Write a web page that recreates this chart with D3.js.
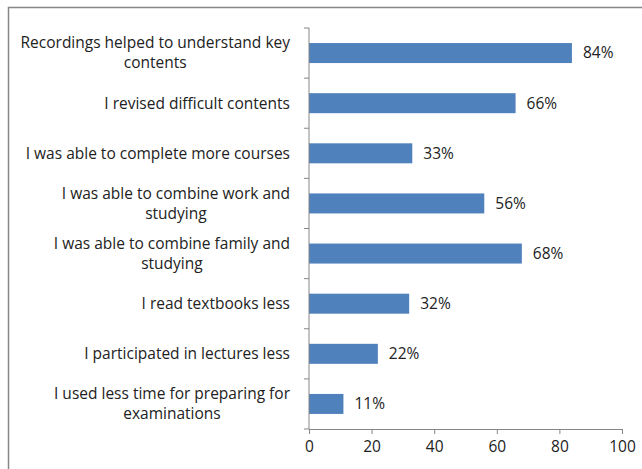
<!DOCTYPE html>
<html>
<head>
<meta charset="utf-8">
<script src="https://cdn.jsdelivr.net/npm/d3@7"></script>
<style>
body { margin: 0; background: #fff; }
svg { display: block; }
text { font-family: "Open Sans", sans-serif; fill: #222; }
</style>
</head>
<body>
<div class="wrapper"><svg width="642" height="469"></svg></div>
<script>
// categories top to bottom, each line of the label is one entry
var categories = [
    ["Recordings helped to understand key", "contents"],
    ["I revised difficult contents"],
    ["I was able to complete more courses"],
    ["I was able to combine work and", "studying"],
    ["I was able to combine family and", "studying"],
    ["I read textbooks less"],
    ["I participated in lectures less"],
    ["I used less time for preparing for", "examinations"]
];
var values = [84, 66, 33, 56, 68, 32, 22, 11];
var xTicks = [0, 20, 40, 60, 80, 100];

draw();

function draw()
{
    var svg = d3.select('.wrapper').select('svg');
    svg.html("");

    /* plot area */
    var left = 309, right = 622, top = 28, bottom = 429;
    var fs = '15.5px';

    // outer chart border (runs past the picture on right / bottom)
    svg.append('rect')
        .attr('x', 8.5).attr('y', 7.5)
        .attr('width', 700).attr('height', 600)
        .attr('fill', 'none')
        .attr('stroke', '#868686')
        .attr('stroke-width', 1.5);

    var x = d3.scaleLinear().domain([0, 100]).range([left, right]);
    var yb = d3.scaleBand().domain(d3.range(categories.length)).range([top, bottom]);

    var g = svg.append('g');

    g.selectAll('rect.bar').data(values).enter().append('rect')
        .attr('class', 'bar')
        .attr('fill', '#4f81bd')
        .attr('x', x(0))
        .attr('y', function(d, i) { return yb(i) + yb.bandwidth() / 2 - 10; })
        .attr('width', function(d) { return x(d) - x(0); })
        .attr('height', 20);

    g.selectAll('text.val').data(values).enter().append('text')
        .attr('class', 'val')
        .attr('x', function(d) { return x(d) + 11; })
        .attr('y', function(d, i) { return yb(i) + yb.bandwidth() / 2; })
        .attr('dy', '0.35em')
        .style('font-size', fs)
        .text(function(d) { return d + '%'; });

    /* x axis */
    var xAxis = d3.axisBottom(x).tickValues(xTicks).tickSize(5).tickSizeOuter(0).tickPadding(7);
    var xg = svg.append('g').attr('transform', 'translate(0,' + bottom + ')').call(xAxis);
    xg.select('.domain').attr('stroke', '#868686');
    xg.selectAll('.tick line').attr('stroke', '#868686');
    xg.selectAll('.tick text').style('font-size', fs).style('font-family', '"Open Sans", sans-serif').attr('fill', '#222');

    /* y axis: tick marks at band edges, labels at band centres */
    var yg = svg.append('g');
    yg.append('line')
        .attr('x1', left).attr('x2', left)
        .attr('y1', top).attr('y2', bottom)
        .attr('stroke', '#868686');
    yg.selectAll('line.tk').data(d3.range(categories.length + 1)).enter().append('line')
        .attr('class', 'tk')
        .attr('x1', left - 5).attr('x2', left)
        .attr('y1', function(i) { return i < categories.length ? yb(i) : bottom; })
        .attr('y2', function(i) { return i < categories.length ? yb(i) : bottom; })
        .attr('stroke', '#868686');

    var labelRight = 290, lineH = 20;
    categories.forEach(function(lines, i) {
        var cy = yb(i) + yb.bandwidth() / 2;
        var t = yg.append('text').style('font-size', fs);
        var spans = lines.map(function(s, k) {
            return t.append('tspan')
                .attr('y', cy + (k - (lines.length - 1) / 2) * lineH)
                .attr('dy', '0.35em')
                .text(s);
        });
        // lines are centred on each other, block is right aligned
        var maxw = d3.max(spans, function(s) { return s.node().getComputedTextLength(); });
        spans.forEach(function(s) {
            s.attr('x', labelRight - maxw / 2).attr('text-anchor', 'middle');
        });
    });
}
</script>
</body>
</html>
